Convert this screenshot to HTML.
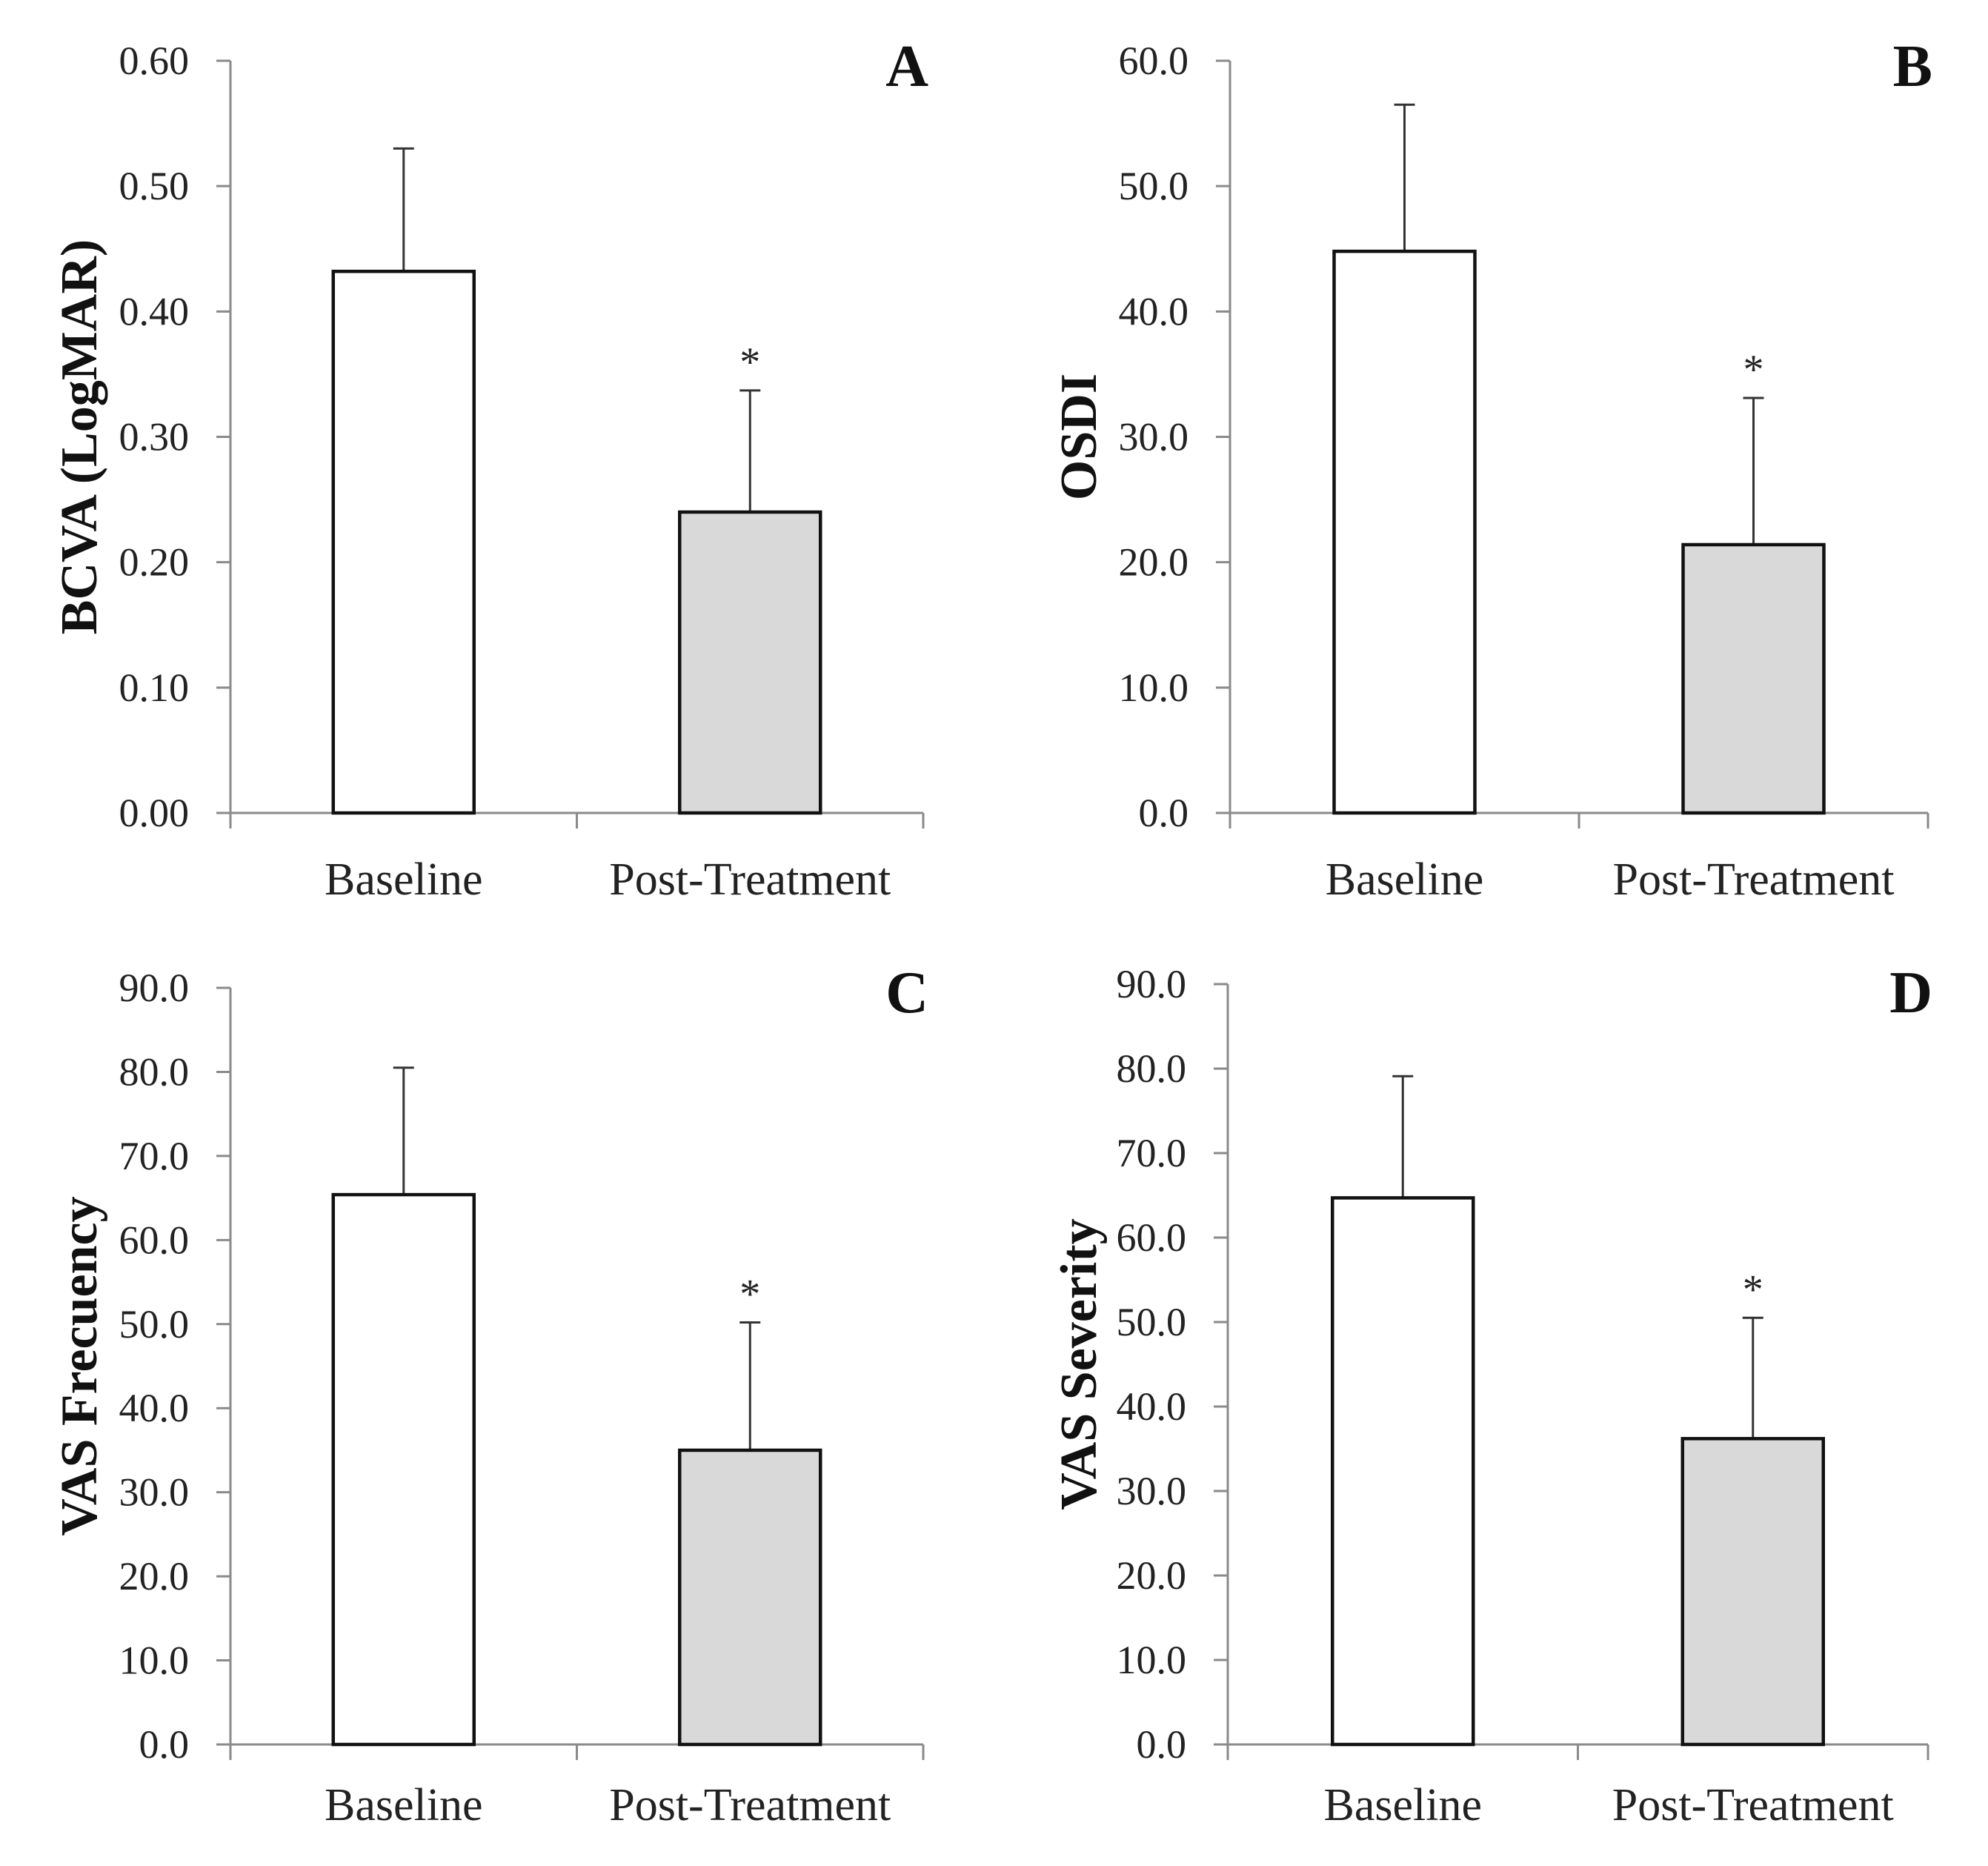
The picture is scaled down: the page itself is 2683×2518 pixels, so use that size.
<!DOCTYPE html>
<html><head><meta charset="utf-8">
<style>
html,body{margin:0;padding:0;background:#fff;}
svg{display:block;font-family:"Liberation Serif",serif;}
</style></head>
<body>
<svg id="fig" width="2683" height="2518" viewBox="0 0 2683 2518" xmlns="http://www.w3.org/2000/svg"></svg>
<script>
// ---- data ----
const categories = ["Baseline", "Post-Treatment"];
const panelLetters = ["A", "B", "C", "D"];
const yTitles = ["BCVA (LogMAR)", "OSDI", "VAS Frecuency", "VAS Severity"];
const meansA = [0.432, 0.240];
const errTopsA = [0.530, 0.337];
const meansB = [44.8, 21.4];
const errTopsB = [56.5, 33.1];
const meansC = [65.4, 35.0];
const errTopsC = [80.5, 50.2];
const meansD = [64.7, 36.2];
const errTopsD = [79.1, 50.5];
const ticksA = [0, 0.1, 0.2, 0.3, 0.4, 0.5, 0.6];
const ticksB = [0, 10, 20, 30, 40, 50, 60];
const ticksCD = [0, 10, 20, 30, 40, 50, 60, 70, 80, 90];
const significant = [false, true];

const NS = "http://www.w3.org/2000/svg";
const svg = document.getElementById("fig");
function el(tag, attrs, parent, text) {
  const e = document.createElementNS(NS, tag);
  for (const k in attrs) e.setAttribute(k, attrs[k]);
  if (text !== undefined) e.textContent = text;
  (parent || svg).appendChild(e);
  return e;
}

const layouts = [
  {x0: 311, x1: 1246, yTop: 82, yZero: 1097, titleX: 106, letterX: 1253, letterY: 116, catY: 1207, dec: 2},
  {x0: 1660, x1: 2602, yTop: 82, yZero: 1097, titleX: 1455, letterX: 2608, letterY: 116, catY: 1207, dec: 1},
  {x0: 311, x1: 1246, yTop: 1333, yZero: 2354, titleX: 106, letterX: 1253, letterY: 1366, catY: 2456, dec: 1},
  {x0: 1657, x1: 2602, yTop: 1328, yZero: 2354, titleX: 1455, letterX: 2608, letterY: 1366, catY: 2456, dec: 1}
];
const meansAll = [meansA, meansB, meansC, meansD];
const errAll = [errTopsA, errTopsB, errTopsC, errTopsD];
const ticksAll = [ticksA, ticksB, ticksCD, ticksCD];

layouts.forEach((L, p) => {
  const ticks = ticksAll[p];
  const yMax = ticks[ticks.length - 1];
  const yScale = v => L.yZero - (v / yMax) * (L.yZero - L.yTop);
  const half = (L.x1 - L.x0) / categories.length;
  const xCenter = i => L.x0 + half * (i + 0.5);
  const barW = 190;

  const g = el("g", {});
  
  

  // y axis
  const ya = el("line", {x1: L.x0, y1: L.yTop, x2: L.x0, y2: L.yZero + 21, stroke: "#8a8a8a", "stroke-width": 3}, g);
  
  
  // x axis
  const xa = el("line", {x1: L.x0 - 19, y1: L.yZero, x2: L.x1, y2: L.yZero, stroke: "#8a8a8a", "stroke-width": 3}, g);
  
  
  // x category ticks
  for (let i = 1; i <= categories.length; i++) {
    const tx = L.x0 + half * i;
    const t = el("line", {x1: tx, y1: L.yZero, x2: tx, y2: L.yZero + 21, stroke: "#8a8a8a", "stroke-width": 3}, g);
    
    
  }
  // y ticks + labels
  ticks.forEach(v => {
    const y = yScale(v);
    const t = el("line", {x1: L.x0 - 19, y1: y, x2: L.x0, y2: y, stroke: "#8a8a8a", "stroke-width": 3}, g);
    
    
    const lbl = el("text", {x: L.x0 - 56, y: y + 18, "text-anchor": "end", "font-size": 54, fill: "#222"}, g, v.toFixed(L.dec));
    
    
  });
  // y title
  const cy = (L.yTop + L.yZero) / 2;
  const yt = el("text", {x: L.titleX, y: cy, "text-anchor": "middle", "font-size": 70, "font-weight": "bold", fill: "#111",
    transform: `rotate(-90 ${L.titleX} ${cy})`, dy: 24}, g, yTitles[p]);
  
  
  // panel letter
  const pl = el("text", {x: L.letterX, y: L.letterY, "text-anchor": "end", "font-size": 80, "font-weight": "bold", fill: "#111"}, g, panelLetters[p]);
  
  

  const means = meansAll[p], errs = errAll[p];
  categories.forEach((c, i) => {
    const cx = xCenter(i);
    const yb = yScale(means[i]);
    const ye = yScale(errs[i]);
    // error bar
    const eb = el("line", {x1: cx, y1: yb, x2: cx, y2: ye, stroke: "#333", "stroke-width": 3}, g);
    
    
    const cap = el("line", {x1: cx - 14, y1: ye, x2: cx + 14, y2: ye, stroke: "#333", "stroke-width": 3}, g);
    
    
    // bar
    const b = el("rect", {x: cx - barW / 2, y: yb, width: barW, height: L.yZero - yb,
      fill: i === 0 ? "#ffffff" : "#d9d9d9", stroke: "#111", "stroke-width": 4.5}, g);
    
    
    if (significant[i]) {
      const s = el("text", {x: cx, y: ye - 20, "text-anchor": "middle", "font-size": 56, fill: "#222"}, g, "*");
      
      
    }
    const cl = el("text", {x: cx, y: L.catY, "text-anchor": "middle", "font-size": 62, fill: "#222"}, g, c);
    
    
  });
});
</script>
</body></html>
